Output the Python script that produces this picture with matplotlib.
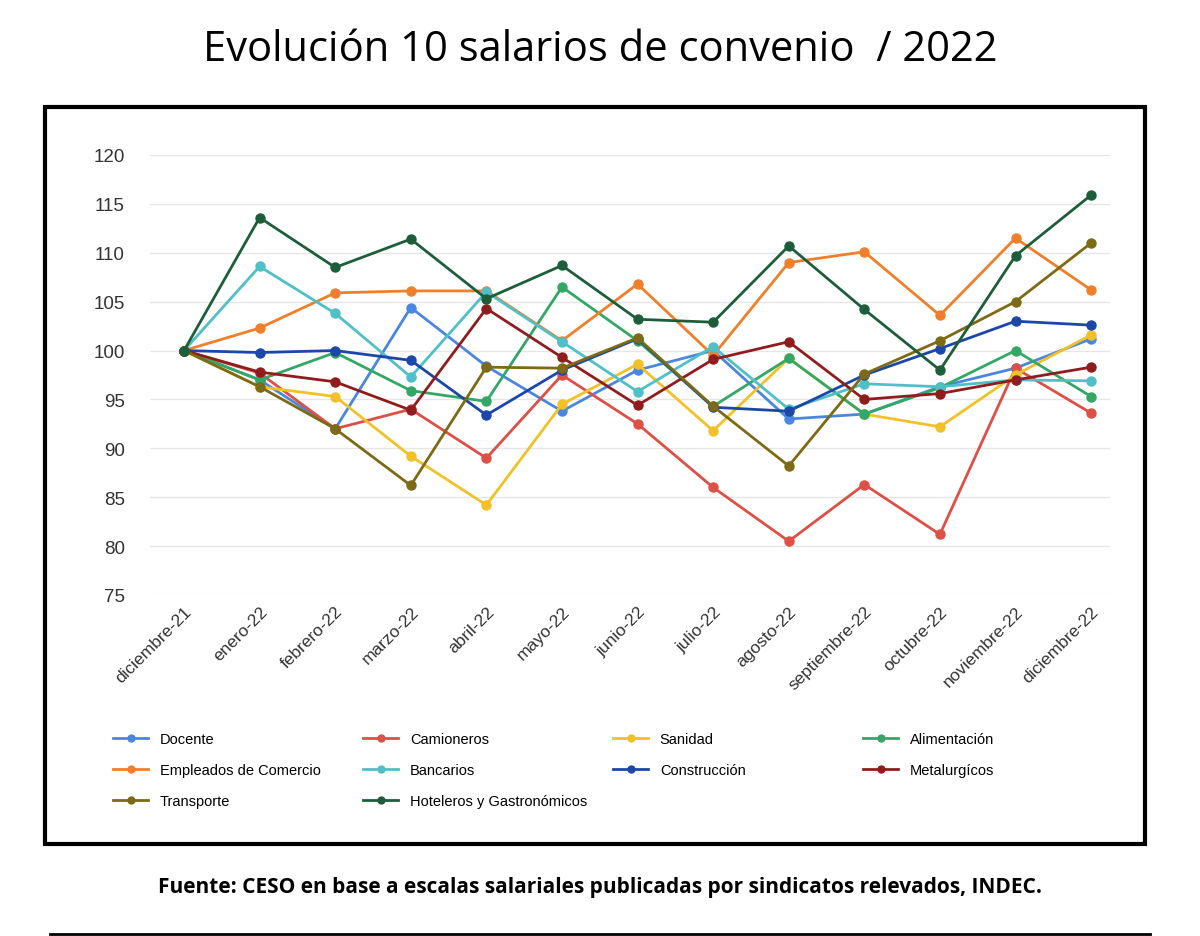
import matplotlib
matplotlib.use("Agg")
import matplotlib.pyplot as plt
from matplotlib.patches import Rectangle
from matplotlib.lines import Line2D

months = ["diciembre-21","enero-22","febrero-22","marzo-22","abril-22","mayo-22","junio-22",
          "julio-22","agosto-22","septiembre-22","octubre-22","noviembre-22","diciembre-22"]
docente = [100,97,92,104.4,98.4,93.8,98,100,93,93.5,96.3,98.2,101.2]
camioneros = [100,97.7,92,94,89,97.5,92.5,86,80.5,86.3,81.2,98.2,93.6]
sanidad = [100,96.3,95.3,89.2,84.2,94.5,98.6,91.8,99.2,93.5,92.2,97.5,101.6]
alimentacion = [100,97,99.8,95.9,94.8,106.5,101,94.3,99.2,93.5,96.2,100,95.3]
comercio = [100,102.3,105.9,106.1,106.1,101,106.8,99.5,109,110.1,103.6,111.5,106.2]
bancarios = [100,108.6,103.8,97.3,106,100.9,95.8,100.4,94,96.6,96.3,97,96.9]
construccion = [100,99.8,100,99,93.4,98,101.2,94.2,93.8,97.5,100.2,103,102.6]
metalurgicos = [100,97.8,96.8,93.9,104.3,99.3,94.4,99.1,100.9,95,95.6,97,98.3]
transporte = [100,96.3,92,86.2,98.3,98.2,101.3,94.3,88.2,97.6,101,105,111]
hoteleros = [100,113.6,108.5,111.4,105.3,108.7,103.2,102.9,110.7,104.2,98,109.7,115.9]

series = [("Docente",docente,"#4a86e0"),("Camioneros",camioneros,"#de4f45"),
          ("Sanidad",sanidad,"#f2c027"),("Alimentación",alimentacion,"#33a866"),
          ("Empleados de Comercio",comercio,"#f07f2a"),("Bancarios",bancarios,"#4fbfc8"),
          ("Construcción",construccion,"#1b47a8"),("Metalurgícos",metalurgicos,"#8f1d1d"),
          ("Transporte",transporte,"#7d6a14"),("Hoteleros y Gastronómicos",hoteleros,"#1d5e3a")]

fig = plt.figure(figsize=(12,9.37), dpi=100)
fig.patch.set_facecolor("white")
fig.text(0.5, 0.947, "Evolución 10 salarios de convenio  / 2022", ha="center", va="center",
         fontsize=30, family="Open Sans")
fig.patches.append(Rectangle((45/1200, 1-845/937), 1100/1200, 737/937, transform=fig.transFigure,
                             fill=False, lw=3, ec="black"))
ax = fig.add_axes([150/1200, 1-596/937, 960/1200, 440/937])
x = range(len(months))
for name, vals, c in series:
    ax.plot(x, vals, color=c, lw=2, marker="o", ms=6.5, label=name)
ax.set_ylim(75,120)
ax.set_yticks(range(75,121,5))
ax.set_xlim(-0.45, 12.25)
ax.set_xticks(list(x))
ax.set_xticklabels(months, rotation=45, ha="right", rotation_mode="anchor", fontsize=12.5,
                   color="#333", family="Liberation Sans")
ax.tick_params(axis="y", labelsize=13.5, colors="#333", length=0, pad=18)
for t in ax.get_yticklabels():
    t.set_family("Liberation Sans")
ax.tick_params(axis="x", length=0, pad=6)
for s in ax.spines.values():
    s.set_visible(False)
ax.grid(axis="y", color="#e6e6e6", lw=1)
ax.set_axisbelow(True)

for col in range(4):
    items = series[col::4]
    handles = [Line2D([0],[0], color=c, lw=2, marker="o", ms=5) for _, _, c in items]
    fig.legend(handles, [n for n, _, _ in items], loc="upper left",
               bbox_to_anchor=((100 + 250*col)/1200, 1-720/937), frameon=False,
               prop={"family": "Liberation Sans", "size": 10.5},
               handlelength=2.4, labelspacing=1.15)
fig.text(0.5, 1-888/937, "Fuente: CESO en base a escalas salariales publicadas por sindicatos relevados, INDEC.",
         ha="center", va="center", fontsize=15, fontweight="bold", family="Open Sans")
fig.lines.append(Line2D([50/1200, 1150/1200], [1-935/937]*2, transform=fig.transFigure, color="black", lw=2))
fig.savefig("out.png", dpi=100)
